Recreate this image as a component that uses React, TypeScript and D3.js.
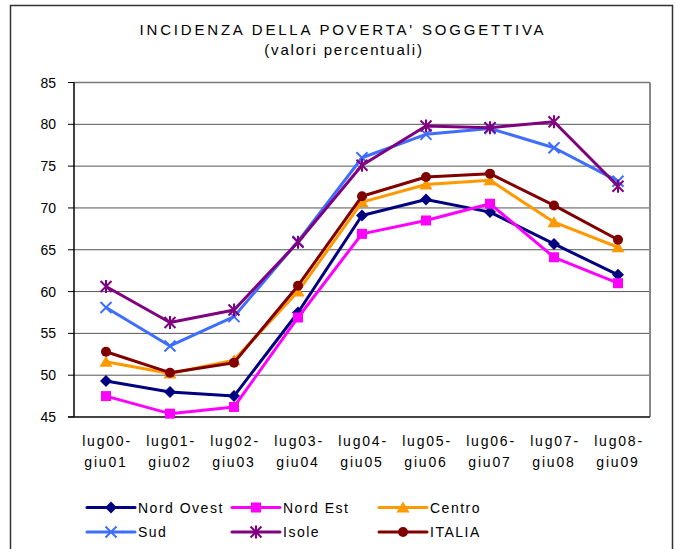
import React from "react";
import * as d3 from "d3";

const categories = ["lug00-giu01", "lug01-giu02", "lug02-giu03", "lug03-giu04", "lug04-giu05", "lug05-giu06", "lug06-giu07", "lug07-giu08", "lug08-giu09"];
const nordOvest = [49.3, 48.0, 47.5, 57.5, 69.1, 71.0, 69.5, 65.7, 62.0];
const nordEst = [47.5, 45.4, 46.2, 56.9, 66.9, 68.5, 70.5, 64.1, 61.0];
const centro = [51.6, 50.2, 51.8, 60.0, 70.7, 72.8, 73.3, 68.3, 65.3];
const sud = [58.1, 53.5, 57.0, 66.0, 76.0, 78.8, 79.5, 77.2, 73.2];
const isole = [60.6, 56.3, 57.8, 65.9, 75.1, 79.8, 79.6, 80.3, 72.6];
const italia = [52.8, 50.3, 51.5, 60.7, 71.4, 73.7, 74.1, 70.3, 66.2];
const yTicks = [45, 50, 55, 60, 65, 70, 75, 80, 85];

const seriesList = [
  { name: "Nord Ovest", values: nordOvest, color: "#000080", marker: "diamond" },
  { name: "Nord Est", values: nordEst, color: "#FF00FF", marker: "square" },
  { name: "Centro", values: centro, color: "#FF9900", marker: "triangle" },
  { name: "Sud", values: sud, color: "#3D6EFF", marker: "x" },
  { name: "Isole", values: isole, color: "#800080", marker: "star" },
  { name: "ITALIA", values: italia, color: "#800000", marker: "circle" },
];

const FONT = "'Liberation Sans', Arial, sans-serif";

function Marker({ type, x, y, color }: { type: string; x: number; y: number; color: string }) {
  if (type === "diamond") {
    return <path d={`M${x},${y - 6}L${x + 6},${y}L${x},${y + 6}L${x - 6},${y}Z`} fill={color} />;
  }
  if (type === "square") {
    return <rect x={x - 5} y={y - 5} width={10} height={10} fill={color} />;
  }
  if (type === "triangle") {
    return <path d={`M${x},${y - 6}L${x + 6.5},${y + 5}L${x - 6.5},${y + 5}Z`} fill={color} />;
  }
  if (type === "circle") {
    return <circle cx={x} cy={y} r={5} fill={color} />;
  }
  if (type === "x") {
    const s = 5.5;
    return (
      <path d={`M${x - s},${y - s}L${x + s},${y + s}M${x - s},${y + s}L${x + s},${y - s}`} stroke={color} strokeWidth={2} />
    );
  }
  const s = 5.5;
  return (
    <path
      d={`M${x - s},${y - s}L${x + s},${y + s}M${x - s},${y + s}L${x + s},${y - s}M${x},${y - s - 1}L${x},${y + s + 1}`}
      stroke={color}
      strokeWidth={2}
    />
  );
}

export default function App() {
  const W = 676;
  const H = 549;
  const left = 74;
  const right = 650;
  const top = 82.5;
  const bottom = 417;

  const x = d3.scaleBand<string>().domain(categories).range([left, right]);
  const y = d3.scaleLinear().domain([45, 85]).range([bottom, top]);
  const cx = (c: string) => (x(c) as number) + x.bandwidth() / 2;

  const line = d3
    .line<number>()
    .x((_, i) => cx(categories[i]))
    .y((v) => y(v));

  const legendCols = [87, 232, 379];
  const legendRows = [507.5, 532];

  return (
    <svg
      width={W}
      height={H}
      style={{ position: "absolute", left: 0, top: 0, background: "#fff" }}
      fontFamily={FONT}
    >
      <rect x={0} y={0} width={W} height={H} fill="#fff" />
      <path d={`M10.5,${H + 2}V5.5H672.5V${H + 2}`} fill="none" stroke="#333" strokeWidth={1.5} />

      <text x={343} y={35} textAnchor="middle" fontSize={15} letterSpacing={2.8} fill="#000">
        INCIDENZA DELLA POVERTA' SOGGETTIVA
      </text>
      <text x={344} y={55} textAnchor="middle" fontSize={15} letterSpacing={1.8} fill="#000">
        (valori percentuali)
      </text>

      {yTicks.map((t) => (
        <line key={t} x1={left} x2={right} y1={y(t)} y2={y(t)} stroke="#555" strokeWidth={1} />
      ))}
      <line x1={right} x2={right} y1={top} y2={bottom} stroke="#888" strokeWidth={2} />
      <line x1={left} x2={right} y1={top} y2={top} stroke="#777" strokeWidth={1.5} />
      <line x1={left} x2={left} y1={top} y2={bottom} stroke="#000" strokeWidth={1.5} />
      <line x1={left - 6} x2={right} y1={bottom} y2={bottom} stroke="#222" strokeWidth={1.5} />
      {yTicks.map((t) => (
        <g key={"tk" + t}>
          <line x1={left - 6} x2={left} y1={y(t)} y2={y(t)} stroke="#000" strokeWidth={1} />
          <text x={56} y={y(t)} dy="0.36em" textAnchor="end" fontSize={14} fill="#000">
            {t}
          </text>
        </g>
      ))}

      {categories.map((c) => {
        const [a, b] = c.split("-");
        return (
          <g key={c}>
            <text x={cx(c) + 1} y={446} textAnchor="middle" fontSize={14} letterSpacing={1.8} fill="#000">
              {a + "-"}
            </text>
            <text x={cx(c)} y={467} textAnchor="middle" fontSize={14} letterSpacing={1.8} fill="#000">
              {b}
            </text>
          </g>
        );
      })}

      {seriesList.map((s) => (
        <g key={s.name}>
          <path d={line(s.values) || ""} fill="none" stroke={s.color} strokeWidth={3} strokeLinejoin="round" />
          {s.values.map((v, i) => (
            <Marker key={i} type={s.marker} x={cx(categories[i])} y={y(v)} color={s.color} />
          ))}
        </g>
      ))}

      {seriesList.map((s, i) => {
        const lx = legendCols[i % 3];
        const ly = legendRows[Math.floor(i / 3)];
        return (
          <g key={"lg" + s.name}>
            <line x1={lx} x2={lx + 48} y1={ly} y2={ly} stroke={s.color} strokeWidth={3} strokeLinecap="round" />
            <Marker type={s.marker} x={lx + 24} y={ly} color={s.color} />
            <text x={lx + 51} y={ly} dy="0.36em" fontSize={14} letterSpacing={1.5} fill="#000">
              {s.name}
            </text>
          </g>
        );
      })}
    </svg>
  );
}
